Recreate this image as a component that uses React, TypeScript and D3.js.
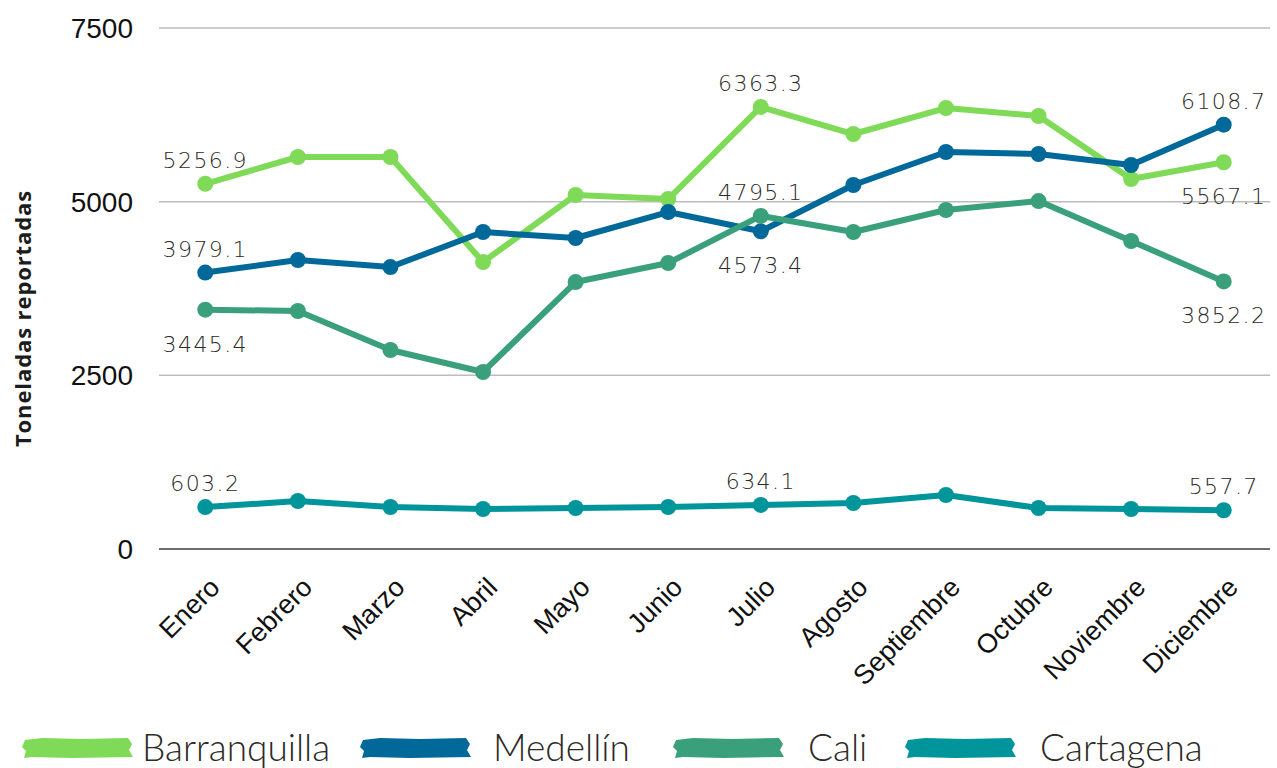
import React from 'react';
import * as d3 from 'd3';

const months = ['Enero', 'Febrero', 'Marzo', 'Abril', 'Mayo', 'Junio', 'Julio', 'Agosto', 'Septiembre', 'Octubre', 'Noviembre', 'Diciembre'];
const barranquilla = [5256.9, 5643, 5643, 4131, 5096, 5038, 6363.3, 5974, 6348, 6233, 5326, 5567.1];
const medellin = [3979.1, 4160, 4059, 4563, 4477, 4851, 4573.4, 5240, 5715, 5686, 5528, 6108.7];
const cali = [3445.4, 3426, 2865, 2548, 3843, 4117, 4795.1, 4563, 4880, 5009, 4434, 3852.2];
const cartagena = [603.2, 691, 605, 576, 590, 605, 634.1, 662, 777, 590, 576, 557.7];
const yTicks = [0, 2500, 5000, 7500];

const series = [
  { name: 'Barranquilla', values: barranquilla, color: '#7fda58', labels: { 0: 'up', 6: 'up', 11: 'down' } },
  { name: 'Medellín', values: medellin, color: '#00699a', labels: { 0: 'up', 6: 'down', 11: 'up' } },
  { name: 'Cali', values: cali, color: '#3aa07b', labels: { 0: 'down', 6: 'up', 11: 'down' } },
  { name: 'Cartagena', values: cartagena, color: '#00959b', labels: { 0: 'up', 6: 'up', 11: 'up' } },
];

const W = 1277;
const H = 768;
const left = 159;
const right = 1270;
const top = 28;
const bottom = 549;

// legend layout: swatch start, text start
const legendPos = [
  { sx: 22, tx: 142 },
  { sx: 360, tx: 493 },
  { sx: 673, tx: 808 },
  { sx: 905, tx: 1040 },
];

const brush = (x: number, y: number, w: number) => {
  const h = 20;
  return `M${x + 3},${y - h / 2 + 2} L${x + 20},${y - h / 2} L${x + 60},${y - h / 2 + 1} L${x + w - 4},${y - h / 2}
    L${x + w},${y - 4} L${x + w - 3},${y + 2} L${x + w + 1},${y + h / 2 - 1}
    L${x + 50},${y + h / 2} L${x + 10},${y + h / 2 - 1} L${x + 2},${y + h / 2}
    L${x + 4},${y + 3} L${x},${y - 1} Z`;
};

export default function App() {
  const x = d3.scaleBand<string>().domain(months).range([left, right]);
  const y = d3.scaleLinear().domain([0, 7500]).range([bottom, top]);
  const cx = (m: string) => (x(m) as number) + x.bandwidth() / 2;
  const line = d3
    .line<number>()
    .x((_, i) => cx(months[i]))
    .y((d) => y(d));

  return (
    <svg width={W} height={H} style={{ position: 'absolute', left: 0, top: 0, background: '#fff' }}>
      {yTicks.map((t) => (
        <g key={t}>
          {t > 0 && <line x1={left} x2={right} y1={y(t)} y2={y(t)} stroke="#bcbcbc" strokeWidth={1.5} />}
          <text x={133} y={y(t)} dy="0.36em" textAnchor="end" fontFamily="Liberation Sans, Arial" fontSize={28} fill="#111">
            {t}
          </text>
        </g>
      ))}
      <line x1={left} x2={right} y1={bottom} y2={bottom} stroke="#6e6e6e" strokeWidth={2} />

      <text
        transform={`translate(31,${(top + bottom) / 2 + 30}) rotate(-90)`}
        textAnchor="middle"
        fontFamily="Open Sans"
        fontWeight="bold"
        fontSize={22}
        letterSpacing={0.9}
        fill="#1c1c1c"
      >
        Toneladas reportadas
      </text>

      {months.map((m) => (
        <text
          key={m}
          transform={`translate(${cx(m) + 16},${bottom + 40}) rotate(-45)`}
          textAnchor="end"
          fontFamily="Liberation Sans, Arial"
          fontSize={27}
          fill="#111"
        >
          {m}
        </text>
      ))}

      {series.map((s) => (
        <g key={s.name}>
          <path d={line(s.values) as string} fill="none" stroke={s.color} strokeWidth={6} strokeLinejoin="round" />
          {s.values.map((v, i) => (
            <circle key={i} cx={cx(months[i])} cy={y(v)} r={8} fill={s.color} />
          ))}
        </g>
      ))}

      {series.map((s) =>
        Object.entries(s.labels).map(([k, pos]) => {
          const i = +k;
          const v = s.values[i];
          return (
            <text
              key={s.name + k}
              x={cx(months[i])}
              y={pos === 'up' ? y(v) - 16 : y(v) + 42}
              textAnchor="middle"
              fontFamily="DejaVu Sans"
              fontWeight={300}
              fontSize={22}
              letterSpacing={1.4}
              fill="#2b2a26"
            >
              {v.toFixed(1)}
            </text>
          );
        })
      )}

      {series.map((s, i) => (
        <g key={s.name}>
          <path d={brush(legendPos[i].sx, 748, 110)} fill={s.color} />
          <text x={legendPos[i].tx} y={748} dy="0.36em" fontFamily="Lato, Open Sans" fontWeight={300} fontSize={37} fill="#2b2a26">
            {s.name}
          </text>
        </g>
      ))}
    </svg>
  );
}
